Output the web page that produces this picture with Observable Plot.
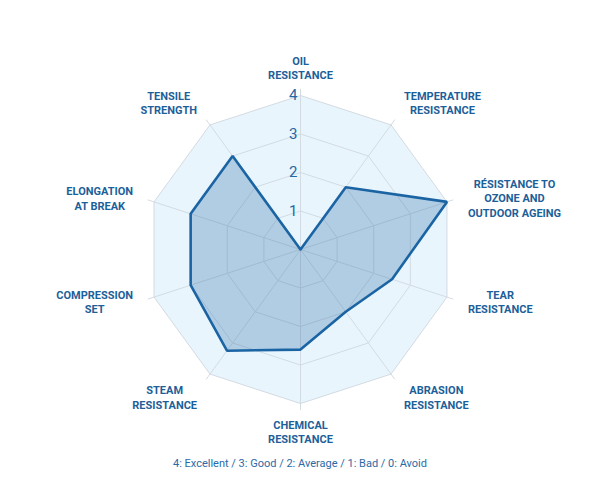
<!DOCTYPE html>
<html>
<head>
<meta charset="utf-8">
<script src="https://cdn.jsdelivr.net/npm/d3@7"></script>
<script src="https://cdn.jsdelivr.net/npm/@observablehq/plot@0.6"></script>
<style>
  body { margin: 0; background: #fff; font-family: Roboto, sans-serif; }
  #chart svg { display: block; }
  #caption { text-align: center; font: 11px Roboto, sans-serif; color: #2b6aa6; margin-top: 9px; line-height: 14px; }
</style>
</head>
<body>
<div id="chart"></div>
<div id="caption"></div>
<script>
// ---- data ----
const categories = [
  "OIL\nRESISTANCE",
  "TEMPERATURE\nRESISTANCE",
  "RÉSISTANCE TO\nOZONE AND\nOUTDOOR AGEING",
  "TEAR\nRESISTANCE",
  "ABRASION\nRESISTANCE",
  "CHEMICAL\nRESISTANCE",
  "STEAM\nRESISTANCE",
  "COMPRESSION\nSET",
  "ELONGATION\nAT BREAK",
  "TENSILE\nSTRENGTH"
];
const values = [0, 2, 4, 2.5, 2, 2.6, 3.25, 3, 3, 3];
const levels = [1, 2, 3, 4];
const tickLabels = ["1", "2", "3", "4"];
const captionText = "4: Excellent / 3: Good / 2: Average / 1: Bad / 0: Avoid";

// ---- layout ----
const W = 600, H = 448;
const cx = 300, cy = 249;
const k = 38.5; // px per unit
const maxLevel = d3.max(levels);
const n = categories.length;
const angle = i => (i * 2 * Math.PI) / n;
const px = (r, i) => r * Math.sin(angle(i));
const py = (r, i) => r * Math.cos(angle(i));

const rings = [];
levels.forEach(l => {
  for (let i = 0; i <= n; i++) rings.push({level: l, x: px(l, i % n), y: py(l, i % n)});
});
const outer = rings.filter(d => d.level === maxLevel);
const spokes = [];
categories.forEach((c, i) => {
  spokes.push({i, x: 0, y: 0});
  spokes.push({i, x: px(maxLevel + 0.16, i), y: py(maxLevel + 0.16, i)});
});
const poly = [];
for (let i = 0; i <= n; i++) poly.push({x: px(values[i % n], i % n), y: py(values[i % n], i % n)});

// label placement
const ctx = document.createElement("canvas").getContext("2d");
ctx.font = "bold 11px Roboto";
const labels = categories.map((c, i) => {
  const a = angle(i);
  const s = Math.sin(a), co = Math.cos(a);
  const w = d3.max(c.split("\n"), t => ctx.measureText(t).width);
  const Ry = Math.abs(co) > 0.5 ? 182 : 168;
  let xPx;
  if (Math.abs(s) < 0.01) xPx = 0;
  else xPx = 176 * s + Math.sign(s) * w / 2;
  return {text: c, x: xPx / k, y: (Ry * co) / k};
});

const ticks = levels.map((l, i) => ({x: 0, y: l, t: tickLabels[i]}));

const chart = Plot.plot({
  width: W, height: H,
  marginTop: 0, marginBottom: 0, marginLeft: 0, marginRight: 0,
  x: {domain: [-cx / k, (W - cx) / k], axis: null},
  y: {domain: [(cy - H) / k, cy / k], axis: null},
  style: {fontFamily: "Roboto, sans-serif", background: "#fff"},
  marks: [
    Plot.line(outer, {x: "x", y: "y", fill: "#e9f5fd", stroke: "none"}),
    Plot.line(rings, {x: "x", y: "y", z: "level", stroke: "#d3dbe2", strokeWidth: 1}),
    Plot.line(spokes, {x: "x", y: "y", z: "i", stroke: "#d3dbe2", strokeWidth: 1}),
    Plot.line(poly, {x: "x", y: "y", fill: "#1b64a4", fillOpacity: 0.27, stroke: "none"}),
    Plot.line(poly, {x: "x", y: "y", stroke: "#1b64a4", strokeWidth: 2.6, strokeLinejoin: "miter"}),
    Plot.text(ticks, {x: "x", y: "y", text: "t", textAnchor: "end", dx: -3, fontSize: 15, fill: "#2467a3"}),
    Plot.text(labels, {x: "x", y: "y", text: "text", textAnchor: "middle", lineAnchor: "middle", lineHeight: 1.33, fontSize: 11, fontWeight: "bold", fill: "#1d5f99"})
  ]
});
document.getElementById("chart").appendChild(chart);
document.getElementById("caption").textContent = captionText;
</script>
</body>
</html>
